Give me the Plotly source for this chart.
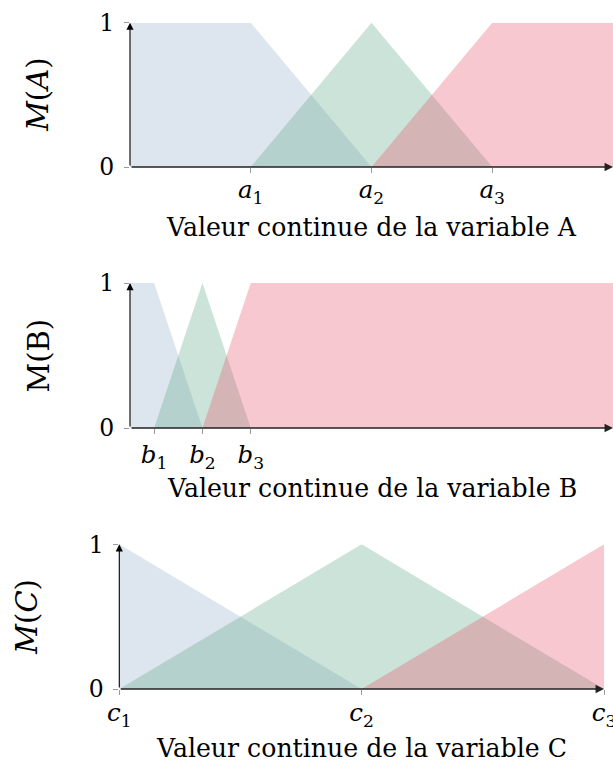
import plotly.graph_objects as go

# ---------------- data ----------------
# Panel A : variable A, x range 0..4
a_range = [0, 4]
a_ticks = [1, 2, 3]
a_ticklabels = ["<i>a</i><sub>1</sub>", "<i>a</i><sub>2</sub>", "<i>a</i><sub>3</sub>"]
a_low_x, a_low_y = [0, 0, 1, 2], [0, 1, 1, 0]
a_mid_x, a_mid_y = [1, 2, 3], [0, 1, 0]
a_high_x, a_high_y = [2, 3, 4, 4], [0, 1, 1, 0]

# Panel B : variable B, x range 0..10
b_range = [0, 10]
b_ticks = [0.5, 1.5, 2.5]
b_ticklabels = ["<i>b</i><sub>1</sub>", "<i>b</i><sub>2</sub>", "<i>b</i><sub>3</sub>"]
b_low_x, b_low_y = [0, 0, 0.5, 1.5], [0, 1, 1, 0]
b_mid_x, b_mid_y = [0.5, 1.5, 2.5], [0, 1, 0]
b_high_x, b_high_y = [1.5, 2.5, 10, 10], [0, 1, 1, 0]

# Panel C : variable C, x range 0..2
c_range = [0, 2]
c_ticks = [0, 1, 2]
c_ticklabels = ["<i>c</i><sub>1</sub>", "<i>c</i><sub>2</sub>", "<i>c</i><sub>3</sub>"]
c_low_x, c_low_y = [0, 0, 1], [0, 1, 0]
c_mid_x, c_mid_y = [0, 1, 2], [0, 1, 0]
c_high_x, c_high_y = [1, 2, 2], [0, 1, 0]

y_ticks = [0, 1]
y_ticklabels = ["0", "1"]

x_titles = ["Valeur continue de la variable A",
            "Valeur continue de la variable B",
            "Valeur continue de la variable C"]
y_titles = ["<i>M</i>(<i>A</i>)", "M(B)", "<i>M</i>(<i>C</i>)"]

# ---------------- style ----------------
FONT = "DejaVu Serif"
FS_TITLE = 25.2
FS_YTITLE = 29
FS_TICK = 24.5
FS_YTICK = 23.5
W, H = 613, 762
COL_LOW = "rgba(142,172,198,0.3)"
COL_MID = "rgba(85,162,128,0.3)"
COL_HIGH = "rgba(232,72,98,0.3)"
TICKCOL = "#9a9a9a"


def px_x(v):
    return v / W


def px_y(v):
    return (H - v) / H


panels = [
    dict(rng=a_range, ticks=a_ticks, labels=a_ticklabels,
         sets=[(a_low_x, a_low_y, COL_LOW), (a_mid_x, a_mid_y, COL_MID), (a_high_x, a_high_y, COL_HIGH)],
         xdom=[px_x(130), px_x(613)], ydom=[px_y(167), px_y(22.7)],
         xtitle_y=227.5, ytitle_x=38, standoff=-4),
    dict(rng=b_range, ticks=b_ticks, labels=b_ticklabels,
         sets=[(b_low_x, b_low_y, COL_LOW), (b_mid_x, b_mid_y, COL_MID), (b_high_x, b_high_y, COL_HIGH)],
         xdom=[px_x(130), px_x(613)], ydom=[px_y(428), px_y(283)],
         xtitle_y=488, ytitle_x=38, standoff=0),
    dict(rng=c_range, ticks=c_ticks, labels=c_ticklabels,
         sets=[(c_low_x, c_low_y, COL_LOW), (c_mid_x, c_mid_y, COL_MID), (c_high_x, c_high_y, COL_HIGH)],
         xdom=[px_x(119.3), px_x(604)], ydom=[px_y(689), px_y(544.3)],
         xtitle_y=748, ytitle_x=27, standoff=-3),
]

fig = go.Figure()
annotations = []
layout = dict(
    width=W, height=H,
    margin=dict(l=0, r=0, t=0, b=0, pad=0, autoexpand=False),
    paper_bgcolor="white", plot_bgcolor="white",
    showlegend=False,
    font=dict(family=FONT, size=FS_TITLE, color="black"),
)

for i, p in enumerate(panels):
    n = i + 1
    xa = "x" if n == 1 else f"x{n}"
    ya = "y" if n == 1 else f"y{n}"
    for xs, ys, col in p["sets"]:
        fig.add_trace(go.Scatter(x=xs, y=ys, xaxis=xa, yaxis=ya, mode="lines",
                                 fill="toself", fillcolor=col,
                                 line=dict(width=0), hoverinfo="skip"))
    common_x = dict(range=p["rng"], showgrid=False, zeroline=False, showline=False,
                    tickvals=p["ticks"], tickcolor=TICKCOL, tickwidth=1, ticklen=5,
                    automargin=False)
    common_y = dict(range=[0, 1], showgrid=False, zeroline=False, showline=False,
                    tickvals=y_ticks, tickcolor=TICKCOL, tickwidth=1, ticklen=5,
                    automargin=False)
    layout[f"xaxis{'' if n == 1 else n}"] = dict(
        common_x, domain=p["xdom"], anchor=ya, ticks="outside",
        ticktext=p["labels"], ticklabelstandoff=p["standoff"],
        ticklabeloverflow="allow",
        tickfont=dict(family=FONT, size=FS_TICK))
    layout[f"yaxis{'' if n == 1 else n}"] = dict(
        common_y, domain=p["ydom"], anchor=xa, ticks="outside",
        ticktext=y_ticklabels, ticklabelstandoff=5,
        tickfont=dict(family=FONT, size=FS_YTICK))
    # overlay axes giving the inner half of the crossing tick marks
    layout[f"xaxis{n + 3}"] = dict(common_x, overlaying=xa, anchor=ya, ticks="inside",
                                   ticklen=4, showticklabels=False)
    layout[f"yaxis{n + 3}"] = dict(common_y, overlaying=ya, anchor=xa, ticks="inside",
                                   ticklen=4, showticklabels=False)
    # axis lines with arrow heads
    annotations.append(dict(xref=xa, yref=ya, axref=xa, ayref=ya,
                            x=p["rng"][1], y=0, ax=p["rng"][0], ay=0,
                            showarrow=True, arrowhead=2, arrowsize=1.3, arrowwidth=1.3,
                            arrowcolor="#222", text="", standoff=0, startstandoff=0))
    annotations.append(dict(xref=xa, yref=ya, axref=xa, ayref=ya,
                            x=p["rng"][0], y=1, ax=p["rng"][0], ay=0,
                            showarrow=True, arrowhead=2, arrowsize=1.3, arrowwidth=1.1,
                            arrowcolor="black", text="", standoff=0, startstandoff=0))
    # titles
    annotations.append(dict(xref=f"{xa} domain", yref="paper", x=0.5, y=px_y(p["xtitle_y"]),
                            xanchor="center", yanchor="middle", showarrow=False,
                            text=x_titles[i], font=dict(family=FONT, size=FS_TITLE)))
    annotations.append(dict(xref="paper", yref=f"{ya} domain", x=px_x(p["ytitle_x"]), y=0.5,
                            xanchor="center", yanchor="middle", showarrow=False, textangle=-90,
                            text=y_titles[i], font=dict(family=FONT, size=FS_YTITLE)))

layout["annotations"] = annotations
fig.update_layout(**layout)
fig.write_html("out.html")
